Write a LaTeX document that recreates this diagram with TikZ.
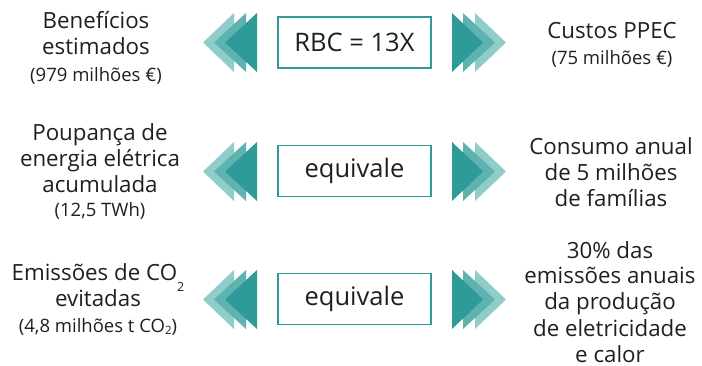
\documentclass[tikz,border=0pt]{standalone}
\usepackage{fontspec}
\setmainfont{Open Sans}
\definecolor{tdark}{HTML}{2E9B98}
\definecolor{tmid}{HTML}{5DB3B0}
\definecolor{tlight}{HTML}{8FCCCA}
\tikzset{
  lbl/.style={align=center, inner sep=0pt, anchor=base, text=black!88, font=\fontsize{22.3}{26}\selectfont},
  eqbox/.style={draw=tdark, line width=1.7pt, minimum width=153pt, minimum height=51pt, inner sep=0pt, font=\fontsize{25.5}{30}\selectfont, text=black!88},
}
\newcommand{\smallline}[1]{{\fontsize{18.5}{26}\selectfont #1}}
\newcommand{\bigsub}{\raisebox{-11pt}[0pt][0pt]{\fontsize{12.5}{12}\selectfont 2}}
\newcommand{\smallsub}{\raisebox{-1.5pt}[0pt][0pt]{\fontsize{11.5}{12}\selectfont 2}}
\newcommand{\leftarrows}[1]{%
  \fill[tlight] (203,#1) -- (234,#1-29.5) -- (234,#1+29.5) -- cycle;
  \fill[tmid] (214,#1) -- (246,#1-29.5) -- (246,#1+29.5) -- cycle;
  \fill[tdark] (225,#1) -- (257,#1-29.5) -- (257,#1+29.5) -- cycle;}
\newcommand{\rightarrows}[1]{%
  \fill[tlight] (506,#1) -- (475,#1-29.5) -- (475,#1+29.5) -- cycle;
  \fill[tmid] (495,#1) -- (463,#1-29.5) -- (463,#1+29.5) -- cycle;
  \fill[tdark] (483,#1) -- (452,#1-29.5) -- (452,#1+29.5) -- cycle;}
\begin{document}
\begin{tikzpicture}[x=1pt,y=-1pt]
\useasboundingbox (0,0) rectangle (702,366);
% row 1
\leftarrows{42.5}
\rightarrows{42.5}
\node[eqbox] (b1) at (354.5,42.5) {RBC = 13X};
\node[lbl] (l1) at (96,82) {Benefícios\\estimados\\[1pt]\smallline{(979 milhões €)}};
\node[lbl] (r1) at (612,65) {Custos PPEC\\\smallline{(75 milhões €)}};
% row 2
\leftarrows{171.5}
\rightarrows{171.5}
\node[eqbox] (b2) at (354.5,171) {equivale};
\node[lbl] (l2) at (100,217) {Poupança de\\energia elétrica\\acumulada\\[-2pt]\smallline{(12,5 TWh)}};
\node[lbl] (r2) at (611,207) {Consumo anual\\de 5 milhões\\de famílias};
% row 3
\leftarrows{299.5}
\rightarrows{299.5}
\node[eqbox] (b3) at (354.5,299) {equivale};
\node[lbl] (l3) at (98,333) {Emissões de CO\bigsub\\evitadas\\\smallline{(4,8 milhões t CO\smallsub)}};
\node[lbl] (r3) at (610,362) {30\% das\\emissões anuais\\da produção\\de eletricidade\\e calor};
\end{tikzpicture}
\end{document}
